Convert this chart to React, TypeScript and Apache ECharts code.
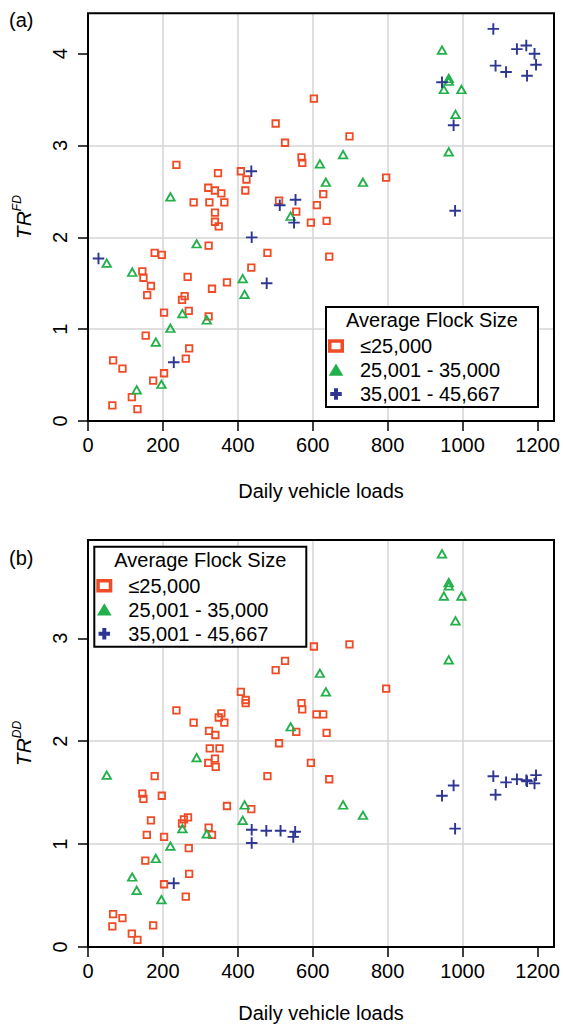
import React, { useEffect, useRef } from "react";
import * as echarts from "echarts";

const FONT = "'Liberation Sans', Arial, Helvetica, sans-serif";

const xTicks = [0, 200, 400, 600, 800, 1000, 1200];
const yTicksA = [0, 1, 2, 3, 4];
const yTicksB = [0, 1, 2, 3];

const legendTitle = "Average Flock Size";
const groupNames = ["≤25,000", "25,001 - 35,000", "35,001 - 45,667"];

// Panel (a): TR^FD vs daily vehicle loads
const smallA: [number, number][] = [
  [236, 2.79], [501, 3.24], [526, 3.03], [347, 2.7], [408, 2.72], [423, 2.63], [420, 2.51],
  [321, 2.54], [339, 2.51], [356, 2.48], [282, 2.38], [324, 2.38], [364, 2.38], [339, 2.27],
  [339, 2.17], [349, 2.12], [510, 2.4], [556, 2.28], [603, 3.51], [698, 3.1], [570, 2.87],
  [572, 2.81], [796, 2.65], [628, 2.47], [611, 2.35], [595, 2.16], [637, 2.18], [644, 1.79],
  [145, 1.63], [148, 1.56], [168, 1.47], [158, 1.37], [178, 1.83], [197, 1.81], [322, 1.91],
  [479, 1.83], [436, 1.67], [371, 1.51], [331, 1.44], [266, 1.57], [258, 1.36], [251, 1.32],
  [269, 1.2], [203, 1.18], [322, 1.14], [154, 0.93], [270, 0.79], [261, 0.68], [67, 0.66],
  [92, 0.57], [203, 0.52], [174, 0.44], [117, 0.26], [65, 0.17], [132, 0.13],
];
const mediumA: [number, number][] = [
  [220, 2.44], [541, 2.23], [945, 4.04], [963, 3.73], [963, 3.7], [950, 3.61], [997, 3.61],
  [981, 3.34], [963, 2.93], [681, 2.9], [619, 2.8], [635, 2.6], [734, 2.6], [50, 1.72],
  [118, 1.62], [290, 1.93], [413, 1.55], [418, 1.38], [252, 1.17], [317, 1.1], [220, 1.01],
  [181, 0.86], [196, 0.4], [130, 0.34],
];
const largeA: [number, number][] = [
  [436, 2.72], [512, 2.35], [554, 2.41], [550, 2.16], [1082, 4.27], [1145, 4.05], [1170, 4.09],
  [1192, 4.0], [1196, 3.88], [1088, 3.87], [1116, 3.8], [1172, 3.76], [945, 3.69], [976, 3.22],
  [980, 2.29], [28, 1.77], [437, 2.0], [477, 1.5], [229, 0.64],
];

// Panel (b): TR^DD vs daily vehicle loads
const smallB: [number, number][] = [
  [501, 2.69], [526, 2.78], [408, 2.48], [421, 2.4], [421, 2.37], [236, 2.3], [282, 2.18],
  [356, 2.27], [349, 2.23], [364, 2.18], [323, 2.1], [340, 2.06], [556, 2.09], [510, 1.98],
  [603, 2.92], [698, 2.94], [796, 2.51], [570, 2.37], [572, 2.31], [610, 2.26], [628, 2.26],
  [637, 2.08], [595, 1.79], [644, 1.63], [325, 1.93], [351, 1.93], [339, 1.83], [321, 1.79],
  [341, 1.75], [178, 1.66], [479, 1.66], [145, 1.49], [148, 1.44], [197, 1.47], [371, 1.37],
  [436, 1.34], [168, 1.23], [267, 1.26], [256, 1.24], [251, 1.2], [322, 1.16], [331, 1.09],
  [157, 1.09], [203, 1.07], [269, 0.96], [153, 0.84], [270, 0.71], [203, 0.61], [261, 0.49],
  [67, 0.32], [92, 0.28], [65, 0.2], [174, 0.21], [117, 0.13], [132, 0.07],
];
const mediumB: [number, number][] = [
  [945, 3.82], [963, 3.54], [963, 3.51], [950, 3.41], [997, 3.41], [981, 3.17], [963, 2.79],
  [619, 2.66], [635, 2.48], [541, 2.14], [681, 1.38], [734, 1.28], [290, 1.84], [50, 1.67],
  [418, 1.38], [413, 1.23], [252, 1.15], [317, 1.1], [220, 0.98], [181, 0.86], [118, 0.68],
  [130, 0.55], [196, 0.46],
];
const largeB: [number, number][] = [
  [437, 1.14], [476, 1.13], [514, 1.13], [553, 1.12], [548, 1.07], [437, 1.01], [229, 0.62],
  [945, 1.47], [976, 1.57], [980, 1.15], [1082, 1.66], [1088, 1.48], [1116, 1.6], [1145, 1.63],
  [1170, 1.62], [1172, 1.61], [1192, 1.59], [1196, 1.67],
];

const RED = "#ef4b26";
const GREEN = "#22b04b";
const BLUE = "#2e3692";
const GRID_COLOR = "#d4d4d4";

const PLUS_PATH = "path://M5,0h2v5h5v2h-5v5h-2v-5h-5v-2h5z";
const ICON_SQUARE = "path://M0,0H12.5V10H0Z";
const ICON_TRI = "path://M6,0L12,10H0Z";
const ICON_PLUS = "path://M4.5,0h3v4.5h4.5v3h-4.5v4.5h-3v-4.5h-4.5v-3h4.5z";

export default function App() {
  const ref = useRef<HTMLDivElement>(null);

  useEffect(() => {
    if (!ref.current) return;
    const chart = echarts.init(ref.current, undefined, { renderer: "svg" });

    const gridL = 88;
    const gridW = 466;
    const grids = [
      { left: gridL, top: 13.3, width: gridW, height: 407.7 },
      { left: gridL, top: 540, width: gridW, height: 407 },
    ];

    const xAxis = (gi: number, gap: number) => ({
      type: "value",
      gridIndex: gi,
      min: 0,
      max: 1244,
      interval: 200,
      axisLine: { show: false },
      axisTick: {
        show: true,
        inside: false,
        length: 10,
        lineStyle: { color: "#000", width: 1.5 },
        customValues: xTicks,
      },
      axisLabel: {
        color: "#000",
        fontSize: 20,
        fontFamily: FONT,
        margin: 14,
        customValues: xTicks,
        formatter: (v: number) => (xTicks.includes(v) ? String(v) : ""),
      },
      splitLine: {
        show: true,
        showMinLine: false,
        showMaxLine: false,
        lineStyle: { color: GRID_COLOR, width: 1.5 },
      },
      name: "Daily vehicle loads",
      nameLocation: "middle",
      nameGap: gap,
      nameTextStyle: { color: "#000", fontSize: 20, fontFamily: FONT },
    });

    const yAxis = (gi: number, max: number, ticks: number[], sup: string) => ({
      type: "value",
      gridIndex: gi,
      min: 0,
      max,
      interval: 1,
      axisLine: { show: false },
      axisTick: {
        show: true,
        inside: false,
        length: 10,
        lineStyle: { color: "#000", width: 1.5 },
        customValues: ticks,
      },
      axisLabel: {
        color: "#000",
        fontSize: 20,
        fontFamily: FONT,
        rotate: 90,
        margin: 18,
        customValues: ticks,
        formatter: (v: number) => (ticks.includes(v) ? String(v) : ""),
      },
      splitLine: {
        show: true,
        showMinLine: false,
        showMaxLine: false,
        lineStyle: { color: GRID_COLOR, width: 1.5 },
      },
      name: `{t|TR}{s|${sup}}`,
      nameLocation: "middle",
      nameRotate: 90,
      nameGap: 53,
      nameTextStyle: {
        color: "#000",
        rich: {
          t: { fontSize: 21, fontStyle: "italic", fontFamily: FONT, lineHeight: 24, color: "#000" },
          s: {
            fontSize: 12,
            fontStyle: "italic",
            fontFamily: FONT,
            lineHeight: 13,
            verticalAlign: "top",
            color: "#000",
          },
        },
      },
    });

    const squareStyle = { color: "rgba(255,255,255,0)", borderColor: RED, borderWidth: 1.8, opacity: 1 };
    const triStyle = { color: "rgba(255,255,255,0)", borderColor: GREEN, borderWidth: 1.8, opacity: 1 };
    const plusStyle = { color: BLUE, borderWidth: 0, opacity: 1 };

    const mk = (name: string, data: [number, number][], gi: number, kind: number) => ({
      type: "scatter",
      name,
      xAxisIndex: gi,
      yAxisIndex: gi,
      data,
      silent: true,
      symbol: kind === 0 ? "rect" : kind === 1 ? "triangle" : PLUS_PATH,
      symbolSize: kind === 0 ? 6.5 : kind === 1 ? [8.5, 7.5] : 11.5,
      itemStyle: kind === 0 ? squareStyle : kind === 1 ? triStyle : plusStyle,
      z: 2,
    });

    const legendData = [
      {
        name: groupNames[0],
        icon: ICON_SQUARE,
        itemStyle: { color: "rgba(255,255,255,0)", borderColor: RED, borderWidth: 3.5, opacity: 1 },
      },
      {
        name: groupNames[1],
        icon: ICON_TRI,
        itemStyle: { color: GREEN, borderColor: GREEN, borderWidth: 1.5, opacity: 1 },
      },
      {
        name: groupNames[2],
        icon: ICON_PLUS,
        itemStyle: { color: BLUE, borderColor: BLUE, borderWidth: 1.5, opacity: 1 },
      },
    ];

    const legendBoxes = [
      { x: 326, y: 307, w: 212, h: 100 },
      { x: 94.3, y: 546.7, w: 212, h: 100 },
    ];

    const legends = legendBoxes.map((b) => ({
      orient: "vertical",
      left: b.x + 2,
      top: b.y + 29,
      itemWidth: 38,
      itemHeight: 10,
      itemGap: 4,
      padding: 0,
      selectedMode: false,
      z: 60,
      textStyle: { color: "#000", fontSize: 20, fontFamily: FONT, lineHeight: 20 },
      data: legendData,
    }));

    const graphics: any[] = [];
    legendBoxes.forEach((b) => {
      graphics.push({
        type: "rect",
        shape: { x: b.x, y: b.y, width: b.w, height: b.h },
        style: { fill: "#fff", stroke: "#000", lineWidth: 2 },
        z: 50,
      });
      graphics.push({
        type: "text",
        x: b.x + b.w / 2,
        y: b.y + 13,
        style: {
          text: legendTitle,
          fill: "#000",
          font: `20px ${FONT}`,
          align: "center",
          verticalAlign: "middle",
        },
        z: 61,
      });
    });
    graphics.push({
      type: "text",
      x: 9,
      y: 20,
      style: { text: "(a)", fill: "#000", font: `20px ${FONT}`, align: "left", verticalAlign: "middle" },
    });
    graphics.push({
      type: "text",
      x: 9,
      y: 558,
      style: { text: "(b)", fill: "#000", font: `20px ${FONT}`, align: "left", verticalAlign: "middle" },
    });
    // plot frames
    grids.forEach((g) => {
      graphics.push({
        type: "rect",
        shape: { x: g.left, y: g.top, width: g.width, height: g.height },
        style: { fill: "none", stroke: "#000", lineWidth: 2 },
        z: 40,
      });
    });

    chart.setOption({
      animation: false,
      backgroundColor: "#fff",
      grid: grids.map((g) => ({ ...g, show: false })),
      xAxis: [xAxis(0, 60), xAxis(1, 56)],
      yAxis: [yAxis(0, 4.44, yTicksA, "FD"), yAxis(1, 3.955, yTicksB, "DD")],
      legend: legends,
      graphic: { elements: graphics },
      series: [
        mk(groupNames[0], smallA, 0, 0),
        mk(groupNames[1], mediumA, 0, 1),
        mk(groupNames[2], largeA, 0, 2),
        mk(groupNames[0], smallB, 1, 0),
        mk(groupNames[1], mediumB, 1, 1),
        mk(groupNames[2], largeB, 1, 2),
      ],
    });

    return () => chart.dispose();
  }, []);

  return (
    <div
      ref={ref}
      style={{ position: "absolute", left: 0, top: 0, width: 563, height: 1027 }}
    />
  );
}
